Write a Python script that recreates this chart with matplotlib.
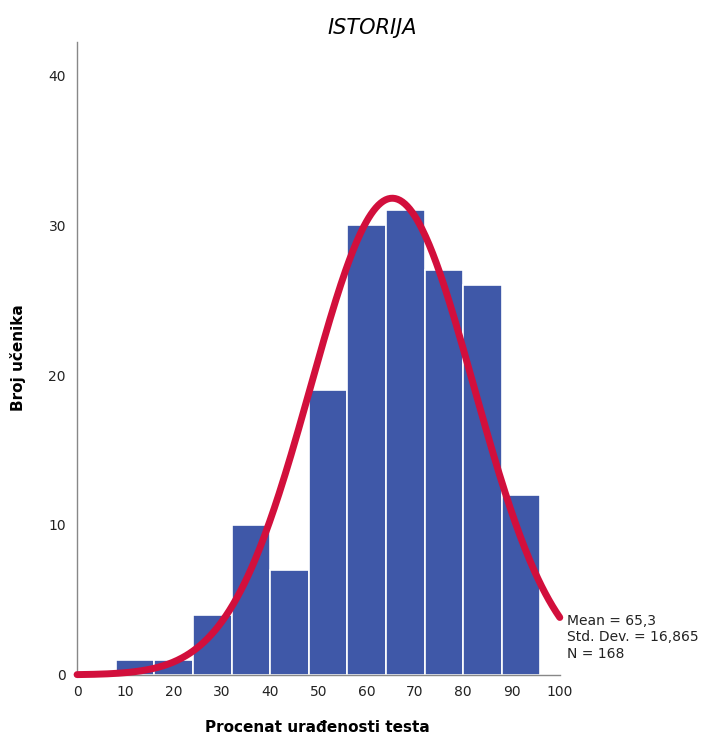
import numpy as np
import matplotlib.pyplot as plt

# histogram data (bin edges in percent, counts per bin)
bin_edges = [8, 16, 24, 32, 40, 48, 56, 64, 72, 80, 88, 96]
counts = [1, 1, 4, 10, 7, 19, 30, 31, 27, 26, 12]
mean = 65.3
std_dev = 16.865
n = 168

title = "ISTORIJA"
xlabel = "Procenat urađenosti testa"
ylabel = "Broj učenika"
xticks = [0, 10, 20, 30, 40, 50, 60, 70, 80, 90, 100]
yticks = [0, 10, 20, 30, 40]

fig = plt.figure(figsize=(7.27, 7.40), dpi=100)
ax = fig.add_axes([0.106, 0.088, 0.664, 0.855])

lefts = bin_edges[:-1]
widths = np.diff(bin_edges)
ax.bar(lefts, counts, width=widths, align='edge', color='#3F58A8',
       edgecolor='white', linewidth=1.2, zorder=2)

# fitted normal curve scaled to counts
bw = widths[0]
xs = np.linspace(0, 100, 400)
ys = n * bw * np.exp(-0.5 * ((xs - mean) / std_dev) ** 2) / (std_dev * np.sqrt(2 * np.pi))
ax.plot(xs, ys, color='#D20F3C', linewidth=5, solid_capstyle='round',
        zorder=3, clip_on=False)

ax.set_xlim(0, 100)
ax.set_ylim(0, 42.2)
ax.set_xticks(xticks)
ax.set_yticks(yticks)
ax.tick_params(length=0, labelsize=10, colors='#222222')
ax.tick_params(axis='x', pad=7)
ax.tick_params(axis='y', pad=8)

for side in ['top', 'right']:
    ax.spines[side].set_visible(False)
for side in ['left', 'bottom']:
    ax.spines[side].set_color('#888888')
    ax.spines[side].set_linewidth(1)

fig.text(0.512, 0.962, title, fontsize=15, style='italic', ha='center', va='center')
fig.text(0.437, 0.017, xlabel, fontsize=11, fontweight='bold', ha='center', va='center')
fig.text(0.025, 0.517, ylabel, fontsize=11, fontweight='bold', ha='center', va='center',
         rotation=90)

stats = "Mean = 65,3\nStd. Dev. = 16,865\nN = " + str(n)
ax.text(1.015, 0.097, stats, transform=ax.transAxes, fontsize=10,
        va='top', ha='left', linespacing=1.25, color='#222222')

fig.savefig('out.png', dpi=100)
